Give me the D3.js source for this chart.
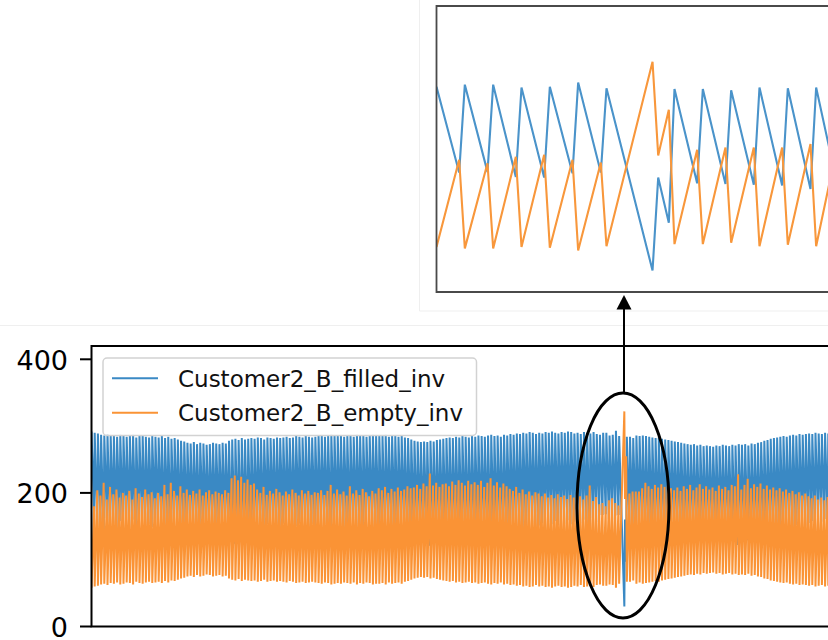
<!DOCTYPE html>
<html>
<head>
<meta charset="utf-8">
<script src="https://cdn.jsdelivr.net/npm/d3@7"></script>
<style>
  body { margin: 0; background: #fff; }
  svg { display: block; font-family: "DejaVu Sans", sans-serif; }
</style>
</head>
<body>
<div id="chart"></div>
<script>
// per cycle values: peak of filled / trough of empty at start of cycle, trough of filled / peak of empty near its end
var filledPeak = [292,290,289,287,286,288,285,286,284,287, 286,284,285,287,283,285,286,284,283,285,
  284,283,285,282,284,281,282,280,278,277, 275,274,276,273,275,274,272,273,275,274,
  273,275,274,278,280,281,279,282,280,281, 282,281,283,282,280,283,282,281,283,282,
  283,284,282,283,285,284,283,285,284,283, 284,285,286,284,285,287,286,285,286,284,
  285,286,284,287,285,286,284,285,287,286, 286,285,287,284,286,285,284,286,283,282,
  280,278,277,276,277,276,278,277,279,280, 281,282,283,282,284,283,285,284,283,285,
  284,286,285,284,286,287,285,286,284,287, 286,288,287,289,288,290,289,291,290,288,
  290,289,291,290,292,290,289,291,290,292, 291,289,290,288,291,290,289,291,288,
  287,290,290,286,287,293,
  284,284,282,286,285,286, 285,284,283,282,283,281,280,279,278,277,
  276,275,274,273,272,273,271,272,270,271, 270,269,271,270,272,271,270,272,271,273,
  272,273,271,274,273,275,276,278,279,281, 282,283,284,285,284,286,287,286,288,287,
  288,289,288,290,289,288,290,289,288];
var filledTrough = [172,148,156,137,162,143,154,147,158,151, 156,148,160,143,152,157,146,153,149,158,
  151,155,139,153,136,148,154,141,150,145, 153,147,151,145,154,149,146,152,148,150,
  152,146,150,128,124,131,126,135,130,138, 136,145,150,141,153,147,151,144,149,154,
  148,152,145,150,154,146,151,147,153,149, 150,146,153,147,138,151,145,152,148,154,
  140,151,146,153,144,149,155,147,151,143, 146,141,150,144,148,142,147,145,140,143,
  142,138,144,136,140,121,139,135,141,137, 136,140,133,138,131,135,139,132,137,134,
  138,132,141,135,128,139,134,142,136,140, 144,147,141,150,145,152,148,154,149,151,
  155,151,157,153,158,152,156,154,159,153, 157,152,155,160,154,139,162,156,167,
  167,168,161,160,166,167,
  152,151,150,149,144,140, 140,144,138,142,137,141,139,143,146,142,
  147,140,144,138,146,142,137,144,140,145, 142,147,139,144,141,146,138,140,122,145,
  138,129,143,137,141,136,144,139,145,142, 146,143,148,145,150,147,152,149,154,151,
  155,158,154,160,157,161,156,159,155];
var emptyTrough = [58,60,61,63,64,62,65,64,66,63, 64,66,65,63,67,65,64,66,67,65,
  66,67,65,68,66,69,68,70,72,73, 75,76,74,77,75,76,78,77,75,76,
  77,75,76,72,70,69,71,68,70,69, 68,69,67,68,70,67,68,69,67,68,
  67,66,68,67,65,66,67,65,66,67, 66,65,64,66,65,63,64,65,64,66,
  65,64,66,63,65,64,66,65,63,64, 64,65,63,66,64,65,66,64,67,68,
  70,72,73,74,73,74,72,73,71,70, 69,68,67,68,66,67,65,66,67,65,
  66,64,65,66,64,63,65,64,66,63, 64,62,63,61,62,60,61,59,60,62,
  60,61,59,60,58,60,61,59,60,58, 59,61,60,62,59,60,61,59,62,
  63,61,61,63,62,58,
  67,67,69,64,66,64, 65,66,67,68,67,69,70,71,72,73,
  74,75,76,77,78,77,79,78,80,79, 80,81,79,80,78,79,80,78,79,77,
  78,77,79,76,77,75,74,72,71,69, 68,67,66,65,66,64,63,64,62,63,
  62,61,62,60,61,62,60,61,62];
var emptyPeak = [180,204,196,215,190,209,198,205,193,200, 196,203,190,207,199,194,205,198,201,192,
  200,195,212,198,215,203,196,210,200,205, 197,203,199,205,196,201,204,198,202,200,
  198,204,200,222,226,219,224,215,220,212, 214,205,200,209,197,203,199,206,201,196,
  202,198,205,200,196,204,199,203,197,201, 200,204,197,203,212,199,205,198,202,196,
  210,199,204,197,206,201,195,203,199,207, 204,209,200,206,202,208,203,205,210,207,
  208,212,206,214,210,229,211,215,209,213, 214,210,217,212,219,215,211,218,213,216,
  212,218,209,215,222,211,216,208,214,210, 206,203,209,200,205,198,202,196,201,199,
  195,199,193,197,192,198,194,196,191,197, 193,198,195,190,196,211,188,194,183,
  185,180,189,192,185,181,
  199,202,202,202,207,215, 210,206,212,208,213,209,211,207,204,208,
  203,210,206,212,204,208,213,206,210,205, 208,203,211,206,209,204,212,210,228,205,
  212,221,207,213,209,214,206,211,205,208, 204,207,202,205,200,203,198,201,196,199,
  195,192,196,190,193,189,194,191,195];

// the disturbance between cycle 164 and 165 (steps after the last regular peak)
var spikeStep = [0, 6.5, 7.3, 8.8];
var spikeFilled = [285, 30, 160, 97];
var spikeEmpty = [64, 322, 191, 255];
var spikeAfter = 165;

var yTicks = [0, 200, 400];
var seriesNames = ["Customer2_B_filled_inv", "Customer2_B_empty_inv"];
var colors = ["#3a89c4", "#fa9335"];

var W = 828, H = 640;
var svg = d3.select("#chart").append("svg").attr("width", W).attr("height", H);

// faint edges of the pasted pictures
svg.append("line").attr("x1", 0).attr("x2", W).attr("y1", 325.5).attr("y2", 325.5)
  .style("stroke", "#efefef").style("stroke-width", 1);
svg.append("line").attr("x1", 419.5).attr("x2", 419.5).attr("y1", 0).attr("y2", 311)
  .style("stroke", "#efefef").style("stroke-width", 1);
svg.append("line").attr("x1", 419.5).attr("x2", W).attr("y1", 311).attr("y2", 311)
  .style("stroke", "#efefef").style("stroke-width", 1);

// build the vertex list
var pts = [];
var t0 = 4 * spikeAfter;
var t1 = t0 + 9.6;
for (var k = 0; k < filledPeak.length; k++) {
  if (k == spikeAfter) {
    for (var j = 0; j < spikeStep.length; j++) {
      pts.push({t: t0 + spikeStep[j], b: spikeFilled[j], o: spikeEmpty[j]});
    }
  }
  var ts = k < spikeAfter ? 4 * k : t1 + 4 * (k - spikeAfter);
  pts.push({t: ts, b: filledPeak[k], o: emptyTrough[k]});
  pts.push({t: ts + 3.2, b: filledTrough[k], o: emptyPeak[k]});
}

// main axes
var mLeft = 91.5, mTop = 346, mBottom = 626.5;
var x = d3.scaleLinear().domain([0, 921.25]).range([mLeft, W]);
var y = d3.scaleLinear().domain([0, 400]).range([mBottom, 359.3]);

svg.append("clipPath").attr("id", "mainclip").append("rect")
  .attr("x", mLeft).attr("y", mTop).attr("width", W - mLeft).attr("height", mBottom - mTop);

var gMain = svg.append("g").attr("clip-path", "url(#mainclip)");
var lineB = d3.line().x(function(d) { return x(d.t); }).y(function(d) { return y(d.b); });
var lineO = d3.line().x(function(d) { return x(d.t); }).y(function(d) { return y(d.o); });
gMain.append("path").attr("d", lineB(pts)).style("fill", "none")
  .style("stroke", colors[0]).style("stroke-width", 2);
gMain.append("path").attr("d", lineO(pts)).style("fill", "none")
  .style("stroke", colors[1]).style("stroke-width", 2);

// spines
svg.append("path")
  .attr("d", "M" + (W + 5) + "," + mTop + "H" + mLeft + "V" + mBottom + "H" + (W + 5))
  .style("fill", "none").style("stroke", "#000").style("stroke-width", 2);

var yAxis = svg.append("g");
yAxis.selectAll("line").data(yTicks).enter().append("line")
  .attr("x1", 80).attr("x2", mLeft).attr("y1", function(d) { return y(d); }).attr("y2", function(d) { return y(d); })
  .style("stroke", "#000").style("stroke-width", 2);
yAxis.selectAll("text").data(yTicks).enter().append("text")
  .attr("x", 68).attr("y", function(d) { return y(d) + 10.5; })
  .attr("text-anchor", "end").style("font-size", "27px").style("fill", "#000")
  .text(function(d) { return d; });

// legend
var leg = svg.append("g");
leg.append("rect").attr("x", 103).attr("y", 358).attr("width", 373.5).attr("height", 77.5)
  .attr("rx", 4).style("fill", "#fff").style("fill-opacity", 0.8)
  .style("stroke", "#d2d2d2").style("stroke-width", 1.5);
seriesNames.forEach(function(name, i) {
  var ly = 378.3 + i * 34.5;
  leg.append("line").attr("x1", 112).attr("x2", 158).attr("y1", ly).attr("y2", ly)
    .style("stroke", colors[i]).style("stroke-width", 2);
  leg.append("text").attr("x", 178).attr("y", ly + 8.3).style("font-size", "23px")
    .style("fill", "#111").text(name);
});

// marker ellipse + arrow to the zoom
svg.append("ellipse").attr("cx", 623).attr("cy", 505.5).attr("rx", 46).attr("ry", 112.5)
  .style("fill", "none").style("stroke", "#000").style("stroke-width", 3);
svg.append("line").attr("x1", 624).attr("x2", 624).attr("y1", 393).attr("y2", 305)
  .style("stroke", "#000").style("stroke-width", 2);
svg.append("path").attr("d", "M624,295L631.5,309.5L616.5,309.5Z").style("fill", "#000");

// inset: same series, close up around the disturbance
var iLeft = 436.5, iTop = 6, iBottom = 292;
var xi = d3.scaleLinear().domain([t0 - 24, t0 - 24 + (W - iLeft) / 7.083]).range([iLeft, W]);
var yi = d3.scaleLinear().domain([0, 400]).range([iBottom, iTop]);

svg.append("clipPath").attr("id", "insetclip").append("rect")
  .attr("x", iLeft).attr("y", iTop).attr("width", W - iLeft).attr("height", iBottom - iTop);
var gIn = svg.append("g").attr("clip-path", "url(#insetclip)");
var near = pts.filter(function(d) { return d.t > t0 - 40 && d.t < t0 + 50; });
gIn.append("path")
  .attr("d", d3.line().x(function(d) { return xi(d.t); }).y(function(d) { return yi(d.b); })(near))
  .style("fill", "none").style("stroke", "#4a93ca").style("stroke-width", 2.1);
gIn.append("path")
  .attr("d", d3.line().x(function(d) { return xi(d.t); }).y(function(d) { return yi(d.o); })(near))
  .style("fill", "none").style("stroke", "#f8973b").style("stroke-width", 2.1);

svg.append("path")
  .attr("d", "M" + (W + 5) + "," + iTop + "H" + iLeft + "V" + iBottom + "H" + (W + 5))
  .style("fill", "none").style("stroke", "#4a4a4a").style("stroke-width", 1.8);
</script>
</body>
</html>
